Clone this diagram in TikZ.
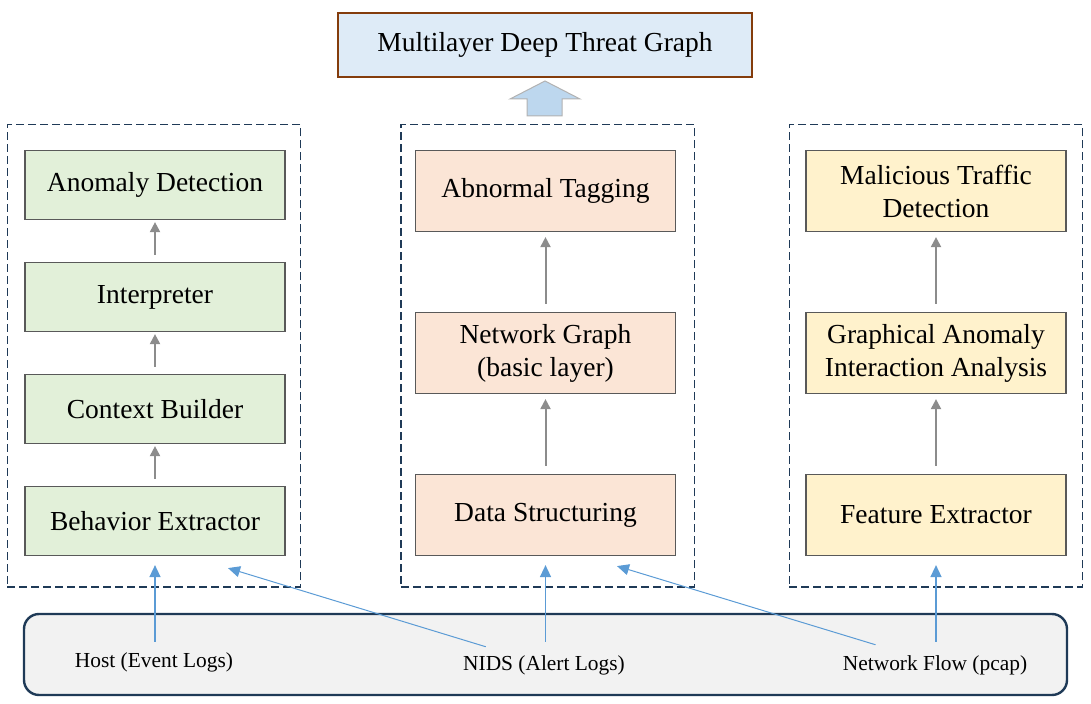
\documentclass[tikz,border=0pt]{standalone}
\usepackage{fontspec}
\setmainfont{Liberation Serif}
\usepackage{tikz}
\usetikzlibrary{arrows.meta,positioning,fit}

\definecolor{titlefill}{HTML}{DEEBF7}
\definecolor{titledraw}{HTML}{843C0C}
\definecolor{upfill}{HTML}{BDD7EE}
\definecolor{hostfill}{HTML}{E2F0D9}
\definecolor{nidsfill}{HTML}{FBE5D6}
\definecolor{flowfill}{HTML}{FFF2CC}
\definecolor{boxdraw}{HTML}{595959}
\definecolor{navy}{HTML}{1F3A57}
\definecolor{srcfill}{HTML}{F2F2F2}
\definecolor{linkblue}{HTML}{5B9BD5}
\definecolor{linkgray}{HTML}{8C8C8C}

\begin{document}
\begin{tikzpicture}[
    x=0.5pt, y=-0.5pt,
    font=\fontsize{13.75}{16.5}\selectfont,
    title/.style={rectangle, draw=titledraw, line width=1.2pt, fill=titlefill, minimum width=207pt, minimum height=32pt},
    hostbox/.style={rectangle, draw=boxdraw, line width=0.6pt, fill=hostfill, minimum width=130pt, minimum height=34.5pt, align=center},
    nidsbox/.style={rectangle, draw=boxdraw, line width=0.6pt, fill=nidsfill, minimum width=130pt, minimum height=40.5pt, align=center},
    flowbox/.style={rectangle, draw=boxdraw, line width=0.6pt, fill=flowfill, minimum width=130pt, minimum height=40.5pt, align=center},
    group/.style={rectangle, draw=navy, line width=0.6pt, dash pattern=on 4pt off 2pt, inner xsep=8pt, inner ysep=14pt, yshift=-1.5pt},
    source/.style={font=\fontsize{10.7}{12}\selectfont, inner sep=0pt, anchor=base},
    arrow/.style={draw=linkgray, line width=1pt, -{Triangle[length=5pt,width=5pt]}},
    feed/.style={draw=linkblue, line width=0.75pt, -{Triangle[length=6pt,width=5.5pt]}},
    feedthin/.style={draw=linkblue, line width=0.5pt, -{Triangle[length=6pt,width=5.5pt]}}
]
    \useasboundingbox (0,0) rectangle (1091,704);

    % Output
    \node[title] (mdtg) at (545,45) {Multilayer Deep Threat Graph};
    \draw[draw=gray!60, fill=upfill, line width=0.5pt] (527,116) -- (527,99) -- (510,99) -- (545,81) -- (580,99) -- (562,99) -- (562,116) -- cycle;

    % Host column
    \node[hostbox] (behavior) at (155,521) {Behavior Extractor};
    \node[hostbox, above=20.9pt of behavior] (context) {Context Builder};
    \node[hostbox, above=20.9pt of context] (interp) {Interpreter};
    \node[hostbox, above=20.9pt of interp] (anomaly) {Anomaly Detection};

    % NIDS column
    \node[nidsbox] (structuring) at (545.5,515) {Data Structuring};
    \node[nidsbox, above=39.9pt of structuring] (netgraph) {Network Graph\\(basic layer)};
    \node[nidsbox, above=39.9pt of netgraph] (tagging) {Abnormal Tagging};

    % Flow column
    \node[flowbox] (feature) at (936,515) {Feature Extractor};
    \node[flowbox, above=39.9pt of feature] (gaia) {Graphical Anomaly\\Interaction Analysis};
    \node[flowbox, above=39.9pt of gaia] (malicious) {Malicious Traffic\\Detection};

    % Dashed groups
    \node[group, fit=(anomaly)(behavior), xshift=-0.5pt] (hostgroup) {};
    \node[group, fit=(tagging)(structuring), xshift=1pt] (nidsgroup) {};
    \node[group, fit=(malicious)(feature)] (flowgroup) {};

    % Data sources
    \node[rectangle, draw=navy, line width=1.2pt, fill=srcfill, rounded corners=7.5pt, minimum width=521.5pt, minimum height=40.5pt] (sources) at (545.5,654.5) {};
    \node[source] (host) at (154,667) {Host (Event Logs)};
    \node[source] (nids) at (544,670) {NIDS (Alert Logs)};
    \node[source] (flow) at (935,670) {Network Flow (pcap)};

    % Arrows - inside groups
    \draw[arrow, shorten <=3.5pt, shorten >=1pt] (behavior) -- (context);
    \draw[arrow, shorten <=3.5pt, shorten >=1pt] (context) -- (interp);
    \draw[arrow, shorten <=3.5pt, shorten >=1pt] (interp) -- (anomaly);
    \draw[arrow, shorten <=4pt, shorten >=2.5pt] (structuring) -- (netgraph);
    \draw[arrow, shorten <=4pt, shorten >=2.5pt] (netgraph) -- (tagging);
    \draw[arrow, shorten <=4pt, shorten >=2.5pt] (feature) -- (gaia);
    \draw[arrow, shorten <=4pt, shorten >=2.5pt] (gaia) -- (malicious);

    % Arrows - sources
    \draw[feed, shorten <=5pt, shorten >=4.5pt] (behavior.south |- host.north) -- (behavior.south);
    \draw[feed, shorten <=6.5pt, shorten >=4.5pt] (structuring.south |- nids.north) -- (structuring.south);
    \draw[feed, shorten <=6.5pt, shorten >=4.5pt] (feature.south |- flow.north) -- (feature.south);
    \draw[feedthin] ([xshift=11.5pt,yshift=4pt]nids.north west) -- ([xshift=36.5pt,yshift=-6pt]behavior.south);
    \draw[feedthin] ([xshift=16.5pt,yshift=5pt]flow.north west) -- ([xshift=35.75pt,yshift=-5pt]structuring.south);

\end{tikzpicture}
\end{document}
